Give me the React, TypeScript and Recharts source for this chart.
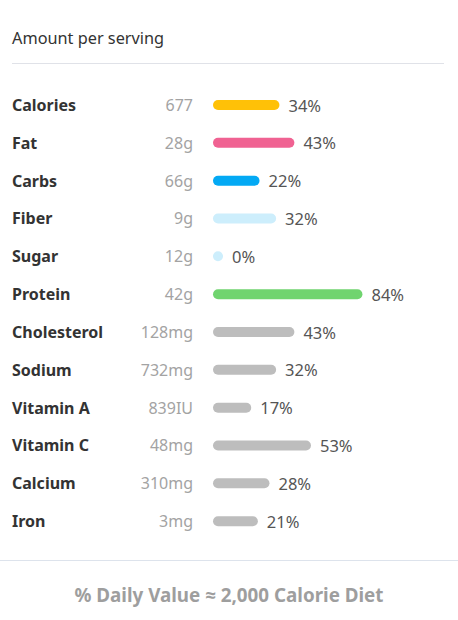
import { BarChart, Bar, XAxis, YAxis, LabelList } from "recharts"

const nutrients = ["Calories", "Fat", "Carbs", "Fiber", "Sugar", "Protein", "Cholesterol", "Sodium", "Vitamin A", "Vitamin C", "Calcium", "Iron"]
const amounts = ["677", "28g", "66g", "9g", "12g", "42g", "128mg", "732mg", "839IU", "48mg", "310mg", "3mg"]
const dailyPct = [34, 43, 22, 32, 0, 84, 43, 32, 17, 53, 28, 21]
const barColors = ["#ffc107", "#f06292", "#03a9f4", "#cdeefc", "#cdeefc", "#70d46f", "#bdbdbd", "#bdbdbd", "#bdbdbd", "#bdbdbd", "#bdbdbd", "#bdbdbd"]

const data = nutrients.map((name, i) => ({ name, amount: amounts[i], pct: dailyPct[i], color: barColors[i] }))

const FONT = "'Noto Sans', 'Open Sans', sans-serif"

function RowTick(props: any) {
  const { y, payload, index } = props
  return (
    <g>
      <text x={12} y={y} dominantBaseline="central" fontFamily={FONT} fontSize={16} fontWeight={700} fill="#333">
        {payload.value}
      </text>
      <text x={193} y={y} dominantBaseline="central" textAnchor="end" fontFamily={FONT} fontSize={16} fill="#a3a3a3">
        {amounts[index]}
      </text>
    </g>
  )
}

// pill shaped bar, a 0% value still shows as a small dot
function PillBar(props: any) {
  const { x, y, width, height, payload } = props
  return <rect x={x} y={y} width={Math.max(width, 0) + 10} height={height} rx={height / 2} fill={payload.color} />
}

function PctLabel(props: any) {
  const { x, y, width, height, value } = props
  return (
    <text x={x + width + 19} y={y + height / 2} dominantBaseline="central" fontFamily={FONT} fontSize={16.5} fill="#555">
      {value}%
    </text>
  )
}

export default function App() {
  return (
    <div style={{ position: "fixed", top: 0, left: 0, width: 458, height: 620, background: "#fff", fontFamily: FONT }}>
      <div style={{ position: "absolute", left: 12, top: 26, fontSize: 16.3, color: "#333", lineHeight: "24px" }}>Amount per serving</div>
      <div style={{ position: "absolute", left: 12, top: 63, width: 432, height: 1, background: "#e0e2e8" }}></div>
      <div style={{ position: "absolute", left: 0, top: 0 }}>
        <BarChart width={458} height={620} data={data} layout="vertical" margin={{ top: 86, bottom: 80, left: 12, right: 79 }} barSize={10}>
          <XAxis type="number" domain={[0, 100]} hide />
          <YAxis type="category" dataKey="name" width={201} axisLine={false} tickLine={false} tick={<RowTick />} interval={0} />
          <Bar dataKey="pct" shape={<PillBar />} isAnimationActive={false}>
            <LabelList dataKey="pct" content={<PctLabel />} />
          </Bar>
        </BarChart>
      </div>
      <div style={{ position: "absolute", left: 0, top: 560, width: 458, height: 1, background: "#dde3ec" }}></div>
      <div style={{ position: "absolute", left: 0, top: 582, width: 458, textAlign: "center", fontSize: 18.8, fontWeight: 700, color: "#9e9e9e", lineHeight: "26px" }}>
        % Daily Value ≈ 2,000 Calorie Diet
      </div>
    </div>
  )
}
